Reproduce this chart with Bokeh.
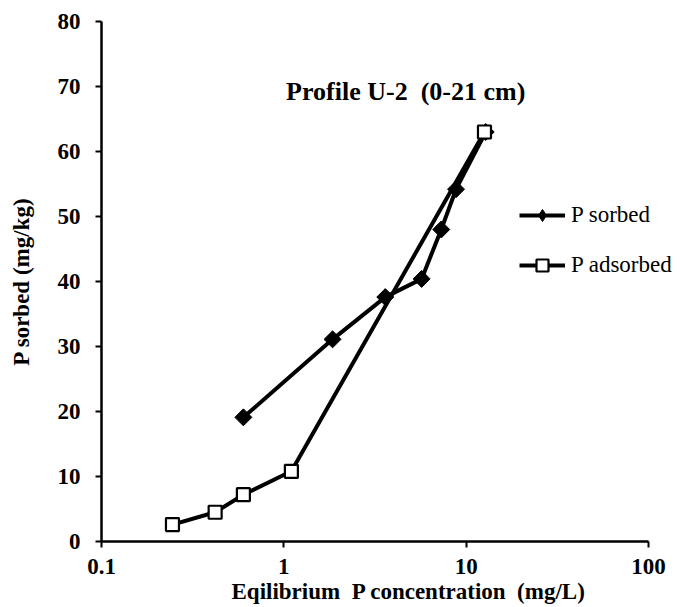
import math
from bokeh.plotting import figure
from bokeh.models import Legend, LegendItem, Label, FixedTicker, Range1d, Title
from bokeh.embed import file_html
from bokeh.resources import INLINE

# Data
sorbed_x = [0.6, 1.85, 3.6, 5.7, 7.3, 8.8, 12.8]
sorbed_y = [19.1, 31.1, 37.6, 40.4, 48.0, 54.2, 63.0]
adsorbed_x = [0.245, 0.42, 0.6, 1.1, 12.6]
adsorbed_y = [2.6, 4.5, 7.2, 10.8, 63.0]
x_ticks = [0.1, 1, 10, 100]
y_ticks = [0, 10, 20, 30, 40, 50, 60, 70, 80]

FONT = "Liberation Serif"

p = figure(width=681, height=607, x_axis_type="log",
           x_range=Range1d(0.1, 151.7), y_range=Range1d(0, 80),
           output_backend="svg", toolbar_location=None,
           min_border_left=101, min_border_right=0,
           min_border_top=21, min_border_bottom=66)
p.outline_line_color = None
p.xgrid.visible = False
p.ygrid.visible = False
p.background_fill_color = "white"
p.border_fill_color = "white"

for ax in (p.xaxis[0], p.yaxis[0]):
    ax.axis_line_color = "black"
    ax.axis_line_width = 2.5
    ax.major_tick_line_color = "black"
    ax.major_tick_line_width = 2
    ax.major_tick_out = 6
    ax.major_tick_in = 0
    ax.minor_tick_line_color = None
    ax.major_label_text_font = FONT
    ax.major_label_text_font_style = "bold"
    ax.major_label_text_font_size = "23px"
    ax.major_label_text_color = "black"

p.xaxis.bounds = (0.1, 100)
p.xaxis.ticker = FixedTicker(ticks=x_ticks)
p.xaxis.major_label_overrides = {0.1: "0.1", 1: "1", 10: "10", 100: "100"}
p.xaxis.major_label_standoff = 11
p.yaxis.ticker = FixedTicker(ticks=y_ticks)
p.yaxis.major_label_standoff = 15

p.yaxis.axis_label = "P sorbed (mg/kg)"
p.yaxis.axis_label_text_font = FONT
p.yaxis.axis_label_text_font_style = "bold"
p.yaxis.axis_label_text_font_size = "23px"
p.yaxis.axis_label_text_color = "black"
p.yaxis.axis_label_standoff = 21

# sorbed series
r1l = p.line(sorbed_x, sorbed_y, line_color="black", line_width=4)
# diamond (used by the legend) drawn under the wider rotated squares
r1k = p.scatter(sorbed_x, sorbed_y, marker="diamond", size=15,
                fill_color="black", line_color="black", line_width=1)
r1m = p.scatter(sorbed_x, sorbed_y, marker="square", size=12, angle=math.pi / 4,
                fill_color="black", line_color="black", line_width=1)
# adsorbed series
r2l = p.line(adsorbed_x, adsorbed_y, line_color="black", line_width=4)
r2m = p.scatter(adsorbed_x, adsorbed_y, marker="square", size=13,
                fill_color="white", line_color="black", line_width=2.2)

legend = Legend(items=[LegendItem(label="P sorbed", renderers=[r1l, r1k]),
                       LegendItem(label="P adsorbed", renderers=[r2l, r2m])],
                location=(418, 261), orientation="vertical",
                glyph_width=46, glyph_height=30, spacing=20, padding=0, margin=0,
                label_standoff=6, label_height=30,
                label_text_font=FONT, label_text_font_size="23px",
                label_text_color="black",
                border_line_color=None, background_fill_alpha=0)
p.add_layout(legend, "center")

title = Label(x=4.66, y=69.3, text="Profile U-2 \u00a0(0-21 cm)",
              text_font=FONT, text_font_style="bold", text_font_size="26px",
              text_align="center", text_baseline="middle", text_color="black")
p.add_layout(title)

xlabel = Title(text="Eqilibrium \u00a0P concentration \u00a0(mg/L)", align="left", offset=130,
               text_font=FONT, text_font_style="bold", text_font_size="23px",
               text_color="black", standoff=0)
p.add_layout(xlabel, "below")

open("out.html", "w").write(file_html(p, INLINE))
